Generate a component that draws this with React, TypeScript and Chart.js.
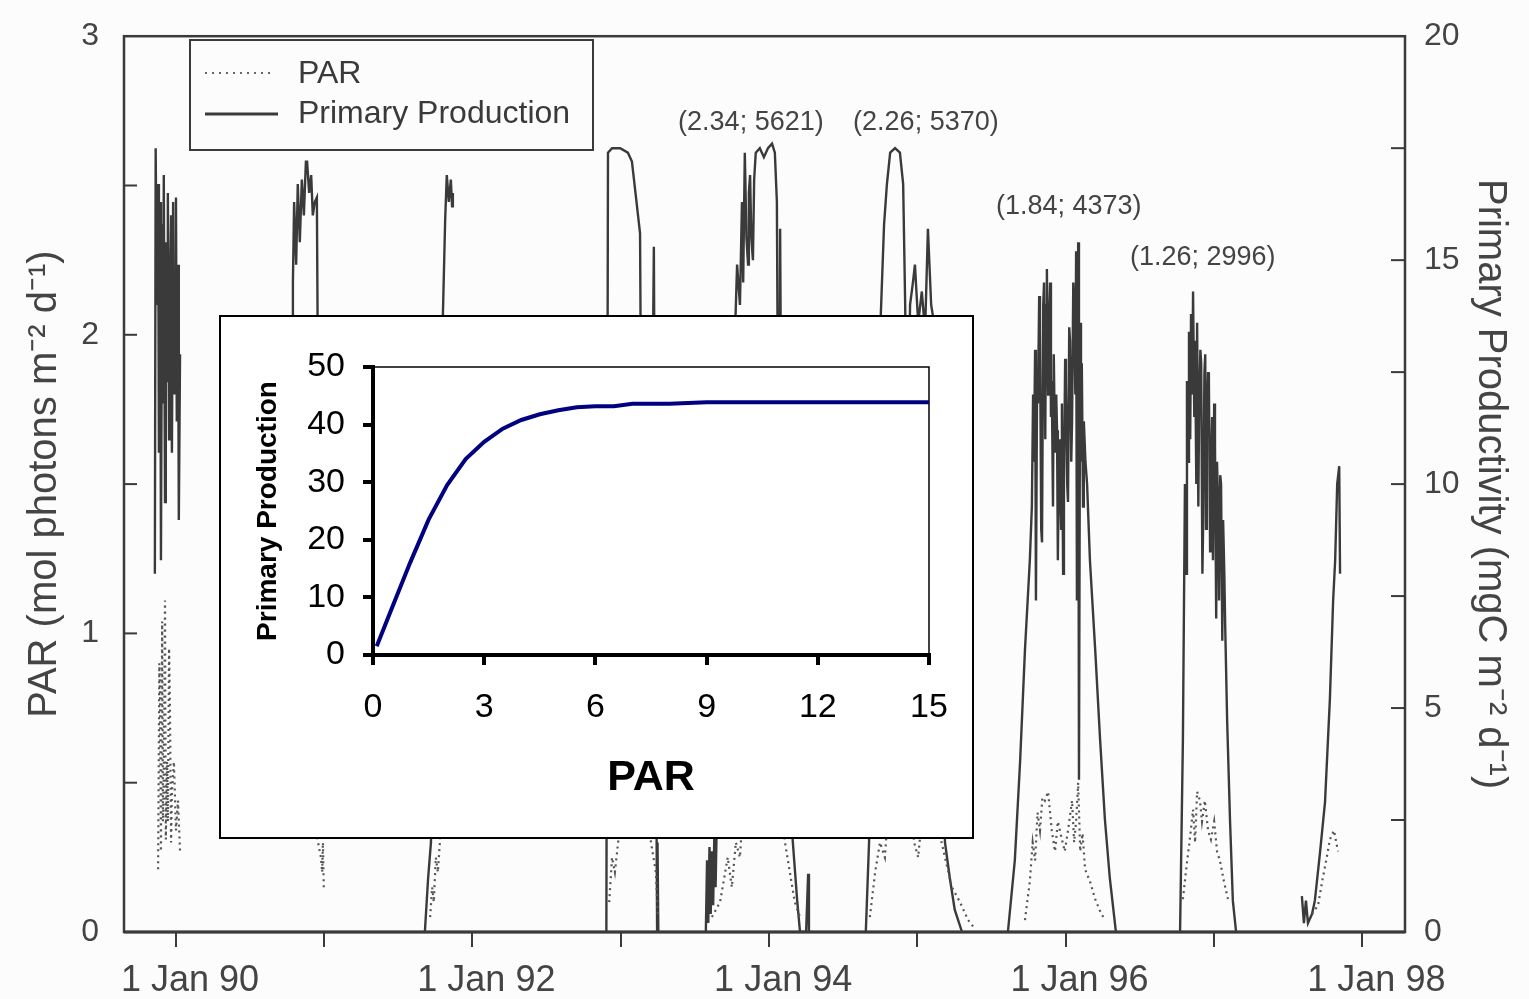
import React, { useEffect, useRef } from 'react';
import { Chart, registerables } from 'chart.js';

Chart.register(...registerables);

const FONT = '"Liberation Sans", Arial, Helvetica, sans-serif';
const INK = '#3a3a3a';

// ---------- Main series (x = days since 1 Jan 1990) ----------
// Primary productivity (right axis, mgC m-2 d-1); null = gap between seasons
const ppDay = [
  -52, -50, -47, -44, -42, -39, -37, -34, -32, -30, -27, -25, -22, -20, -17, -15, -12, -10, -7, -4, -2, 0, 2, 5, 7, 10,
  150,
  286, 288, 291, 296, 300, 305, 310, 315, 320, 323, 328, 333, 337, 342, 347, 350, 355, 360,
  500,
  613, 621, 628, 640, 653, 658, 663, 667, 672, 677, 680, 682,
  850,
  1060, 1064, 1074, 1094, 1113, 1123, 1133, 1143, 1148, 1155, 1167, 1177, 1182, 1185, 1186, 1188,
  1250,
  1305, 1308, 1311, 1314, 1317, 1320, 1323, 1326, 1329, 1332, 1340, 1364, 1377, 1382, 1389, 1394, 1397, 1401, 1405, 1409,
  1411, 1414, 1417, 1421, 1424, 1428, 1438, 1448, 1458, 1468, 1475, 1480, 1485, 1488, 1493, 1512, 1530, 1537, 1552, 1557,
  1559,
  1620,
  1699, 1707, 1714, 1727, 1736, 1744, 1751, 1759, 1771, 1783, 1791, 1796, 1801, 1808, 1815, 1820, 1828, 1837, 1845, 1852,
  1860, 1867, 1874, 1882, 1894, 1906, 1918, 1936,
  2000,
  2049, 2066, 2079, 2091, 2103, 2108, 2111, 2113, 2116, 2118, 2121, 2123, 2126, 2128, 2131, 2133, 2136, 2138, 2141, 2143,
  2145, 2148, 2150, 2153, 2155, 2157, 2160, 2162, 2165, 2168, 2170, 2172, 2175, 2177, 2180, 2182, 2185, 2187, 2190, 2192,
  2195, 2197, 2200, 2202, 2205, 2207, 2210, 2212, 2215, 2217, 2219, 2222, 2224, 2227, 2229, 2231, 2234, 2236, 2240, 2244,
  2251, 2264, 2276, 2288, 2300, 2315,
  2400,
  2473, 2480, 2485, 2488, 2490, 2493, 2495, 2498, 2500, 2503, 2505, 2508, 2510, 2513, 2515, 2518, 2520, 2523, 2525, 2528,
  2530, 2533, 2535, 2537, 2539, 2542, 2544, 2547, 2549, 2552, 2554, 2557, 2559, 2562, 2564, 2567, 2569, 2572, 2574, 2577,
  2579, 2582, 2584, 2589, 2596, 2603, 2611,
  2700,
  2773, 2778, 2783, 2788, 2798, 2805, 2818, 2830, 2842, 2850, 2855, 2860, 2865, 2867,
];
const ppVal = [
  8.0, 17.5, 14.0, 16.7, 10.7, 16.3, 8.3, 15.8, 11.8, 16.9, 9.6, 15.4, 12.3, 16.5, 11.0, 14.0, 16.0, 10.7, 16.3, 12.0, 13.6, 16.4, 11.4, 14.9, 9.2, 12.9,
  null,
  7.4, 14.5, 16.3, 14.9, 16.7, 15.4, 16.8, 16.0, 17.2, 17.2, 16.5, 16.9, 16.0, 16.3, 16.4, 11.8, 7.4, 2.9,
  null,
  0, 1.2, 2.0, 7.4, 12.3, 14.0, 15.9, 16.9, 16.3, 16.8, 16.2, 16.5,
  null,
  0, 17.4, 17.5, 17.5, 17.4, 17.2, 16.4, 15.6, 7.4, 9.6, 5.2, 15.3, 5.2, 0, 2.0, 0,
  null,
  0, 1.6, 0.2, 1.9, 0.4, 1.8, 0.6, 2.2, 1.0, 2.5, 5.2, 10.7, 13.4, 14.9, 14.0, 16.3, 14.5, 17.4, 15.5, 14.9,
  16.5, 16.9, 15.5, 15.0, 16.8, 17.4, 17.5, 17.3, 17.5, 17.6, 17.4, 16.3, 7.4, 15.7, 7.4, 2.9, 0.7, 0, 0, 1.3,
  0,
  null,
  0, 2.0, 5.2, 9.6, 13.8, 15.8, 16.7, 17.4, 17.5, 17.4, 16.7, 14.0, 9.6, 14.0, 14.5, 14.9, 13.6, 14.3, 13.4, 15.7,
  14.0, 13.6, 9.6, 5.2, 2.0, 1.2, 0.5, 0,
  null,
  0, 1.6, 3.8, 6.3, 8.3, 9.5, 12.0, 10.5, 13.0, 7.4, 12.5, 11.8, 14.2, 13.4, 9.0, 8.7, 14.0, 14.5, 11.0, 14.0,
  14.8, 12.0, 13.4, 14.5, 11.5, 12.3, 9.5, 12.9, 10.7, 12.0, 11.2, 8.3, 11.0, 10.3, 9.0, 11.8, 8.0, 10.0, 12.8, 12.3,
  10.0, 9.6, 13.5, 13.2, 10.5, 11.4, 14.5, 14.0, 12.0, 15.2, 7.4, 15.4, 3.4, 13.6, 10.5, 12.7, 9.5, 11.4, 10.5, 10.0,
  8.3, 6.3, 4.3, 2.5, 1.2, 0,
  null,
  0, 4.3, 10.0, 8.0, 12.3, 10.5, 13.4, 11.0, 13.8, 12.0, 14.3, 11.5, 13.2, 10.0, 13.6, 9.5, 11.8, 13.0, 12.7, 8.0,
  9.2, 12.5, 12.9, 9.0, 11.4, 12.5, 12.3, 8.5, 10.3, 11.5, 8.3, 11.8, 10.9, 7.0, 10.5, 9.5, 7.4, 10.2, 10.0, 6.5,
  9.2, 8.0, 6.9, 4.7, 2.5, 0.7, 0,
  null,
  0.8, 0.2, 0.7, 0.2, 0.4, 0.7, 1.8, 2.9, 5.2, 7.4, 8.3, 10.0, 10.4, 8.0,
];

// PAR (left axis, mol photons m-2 d-1)
const parDay = [
  -44, -41, -39, -37, -34, -32, -30, -27, -25, -22, -20, -17, -15, -12, -10, -5, 0, 5, 10,
  150,
  300, 310, 320, 330, 340, 350, 357, 360, 362, 364,
  500,
  626, 631, 635, 640, 645, 650, 655, 665, 675,
  850,
  1067, 1074, 1081, 1089, 1106, 1131, 1155, 1170, 1182, 1187,
  1250,
  1320, 1340, 1359, 1369, 1379, 1389, 1401, 1438, 1475, 1500, 1512, 1524, 1537,
  1620,
  1709, 1722, 1734, 1746, 1759, 1783, 1808, 1818, 1828, 1845, 1869, 1894, 1911, 1931, 1951, 1968,
  2000,
  2091, 2103, 2110, 2116, 2122, 2128, 2134, 2140, 2148, 2157, 2165, 2172, 2182, 2189, 2197, 2207, 2212, 2217, 2222, 2227,
  2233, 2239, 2251, 2264, 2276, 2288,
  2400,
  2480, 2488, 2497, 2505, 2510, 2515, 2522, 2527, 2534, 2542, 2549, 2557, 2564, 2571, 2581, 2591,
  2700,
  2798, 2813, 2823, 2833, 2842, 2852, 2862,
];
const parVal = [
  0.21, 0.9, 0.77, 0.27, 1.04, 0.37, 0.51, 1.11, 0.31, 0.57, 0.37, 0.95, 0.77, 0.3, 0.47, 0.57, 0.34, 0.44, 0.27,
  null,
  0.6, 0.8, 0.5, 0.7, 0.4, 0.3, 0.25, 0.2, 0.3, 0.15,
  null,
  0.05, 0.15, 0.1, 0.25, 0.2, 0.3, 0.5, 0.7, 0.6,
  null,
  0.1, 0.25, 0.2, 0.3, 0.6, 0.7, 0.5, 0.3, 0.2, 0.05,
  null,
  0.05, 0.1, 0.25, 0.15, 0.3, 0.25, 0.5, 0.7, 0.6, 0.3, 0.2, 0.1, 0.05,
  null,
  0.05, 0.2, 0.3, 0.25, 0.5, 0.7, 0.5, 0.3, 0.25, 0.5, 0.4, 0.25, 0.15, 0.1, 0.04, 0.01,
  null,
  0.04, 0.17, 0.3, 0.24, 0.4, 0.34, 0.45, 0.44, 0.47, 0.34, 0.27, 0.37, 0.31, 0.27, 0.34, 0.44, 0.3, 0.37, 0.5, 0.27,
  0.33, 0.21, 0.17, 0.11, 0.07, 0.04,
  null,
  0.11, 0.21, 0.31, 0.41, 0.3, 0.47, 0.44, 0.37, 0.44, 0.34, 0.31, 0.37, 0.27, 0.24, 0.17, 0.11,
  null,
  0.06, 0.09, 0.17, 0.24, 0.31, 0.34, 0.27,
];

const yearTicks = [1990, 1991, 1992, 1993, 1994, 1995, 1996, 1997, 1998];
const parTicks = [0, 1, 2, 3];
const prodTicks = [0, 5, 10, 15, 20];
const parMinorTicks = [0.5, 1, 1.5, 2, 2.5];
const prodMinorTicks = [2.5, 5, 7.5, 10, 12.5, 15, 17.5];

const annotations = [
  { text: '(2.34; 5621)', day: 1416, par: 2.71 },
  { text: '(2.26; 5370)', day: 1847, par: 2.71 },
  { text: '(1.84; 4373)', day: 2199, par: 2.43 },
  { text: '(1.26; 2996)', day: 2529, par: 2.26 },
];

// ---------- Inset series ----------
const insetPar = [0.1, 0.5, 1, 1.5, 2, 2.5, 3, 3.5, 4, 4.5, 5, 5.5, 6, 6.5, 7, 8, 9, 10, 11, 12, 13, 14, 15];
const insetProd = [1.5, 8, 16, 23.5, 29.5, 34, 37, 39.3, 40.8, 41.8, 42.5, 43, 43.2, 43.2, 43.6, 43.6, 43.9, 43.9, 43.9, 43.9, 43.9, 43.9, 43.9];
const insetXTicks = [0, 3, 6, 9, 12, 15];
const insetYTicks = [0, 10, 20, 30, 40, 50];

const dayOf = (y: number) => (Date.UTC(y, 0, 1) - Date.UTC(1990, 0, 1)) / 86400000;

const decorPlugin = {
  id: 'decor',
  afterDraw(chart: any) {
    const { ctx, chartArea, scales } = chart;
    const { left, right, top, bottom } = chartArea;
    ctx.save();
    ctx.strokeStyle = INK;
    ctx.lineWidth = 2.5;
    ctx.setLineDash([]);
    ctx.strokeRect(left, top, right - left, bottom - top);
    ctx.lineWidth = 3;
    ctx.beginPath();
    ctx.moveTo(left, bottom);
    ctx.lineTo(right, bottom);
    ctx.stroke();
    ctx.lineWidth = 2;
    const seg = (x1: number, y1: number, x2: number, y2: number) => {
      ctx.beginPath();
      ctx.moveTo(x1, y1);
      ctx.lineTo(x2, y2);
      ctx.stroke();
    };
    parMinorTicks.forEach((v) => {
      const y = scales.y.getPixelForValue(v);
      seg(left, y, left + 13, y);
    });
    prodMinorTicks.forEach((v) => {
      const y = scales.y1.getPixelForValue(v);
      seg(right - 14, y, right, y);
    });

    // legend
    ctx.fillStyle = '#fcfcfc';
    ctx.fillRect(190, 40, 403, 110);
    ctx.lineWidth = 2;
    ctx.strokeRect(190, 40, 403, 110);
    ctx.strokeStyle = '#666';
    ctx.lineWidth = 2;
    ctx.setLineDash([2, 5]);
    seg(205, 73, 272, 73);
    ctx.setLineDash([]);
    ctx.strokeStyle = INK;
    ctx.lineWidth = 3;
    seg(205, 114, 278, 114);
    ctx.fillStyle = INK;
    ctx.font = `32px ${FONT}`;
    ctx.textBaseline = 'middle';
    ctx.textAlign = 'left';
    ctx.fillText('PAR', 298, 74);
    ctx.fillText('Primary Production', 298, 114);

    // annotations
    ctx.font = `27px ${FONT}`;
    ctx.textAlign = 'center';
    ctx.fillStyle = '#444';
    annotations.forEach((a) => {
      ctx.fillText(a.text, scales.x.getPixelForValue(a.day), scales.y.getPixelForValue(a.par));
    });
    ctx.restore();
  },
};

const insetFramePlugin = {
  id: 'insetFrame',
  beforeDatasetsDraw(chart: any) {
    const { ctx, chartArea } = chart;
    const { left, right, top, bottom } = chartArea;
    ctx.save();
    ctx.strokeStyle = '#000';
    ctx.lineWidth = 1.5;
    ctx.strokeRect(left, top, right - left, bottom - top);
    ctx.restore();
  },
};

function MainChart() {
  const ref = useRef<HTMLCanvasElement | null>(null);
  useEffect(() => {
    if (!ref.current) return;
    const ppData = ppDay.map((d, i) => ({ x: d, y: ppVal[i] }));
    const parData = parDay.map((d, i) => ({ x: d, y: parVal[i] }));
    const chart = new Chart(ref.current, {
      type: 'line',
      data: {
        datasets: [
          {
            label: 'PAR',
            data: parData as any,
            yAxisID: 'y',
            borderColor: '#555',
            borderWidth: 2.2,
            borderDash: [2, 4],
            pointRadius: 0,
            spanGaps: false,
            tension: 0,
          },
          {
            label: 'Primary Production',
            data: ppData as any,
            yAxisID: 'y1',
            borderColor: INK,
            borderWidth: 2.4,
            pointRadius: 0,
            spanGaps: false,
            tension: 0,
          },
        ],
      },
      options: {
        animation: false,
        responsive: false,
        events: [],
        layout: { padding: { top: 32, left: 0, right: 0, bottom: 0 } },
        plugins: { legend: { display: false }, tooltip: { enabled: false } },
        scales: {
          x: {
            type: 'linear',
            position: 'bottom',
            min: -128,
            max: 3027,
            afterBuildTicks: (s: any) => {
              s.ticks = yearTicks.map((y) => ({ value: dayOf(y) }));
            },
            afterFit: (s: any) => {
              s.height = 67;
            },
            grid: { drawOnChartArea: false, drawTicks: true, tickLength: 15, lineWidth: 2, color: INK },
            border: { display: false },
            ticks: {
              autoSkip: false,
              maxRotation: 0,
              padding: 12,
              labelOffset: 14,
              color: '#444',
              font: { size: 36, family: FONT },
              callback: (_v: any, i: number) => {
                const yr = yearTicks[i];
                return yr % 2 === 0 ? `1 Jan ${String(yr).slice(2)}` : '';
              },
            },
          },
          y: {
            type: 'linear',
            position: 'left',
            min: 0,
            max: 3,
            afterBuildTicks: (s: any) => {
              s.ticks = parTicks.map((v) => ({ value: v }));
            },
            afterFit: (s: any) => {
              s.width = 124;
            },
            grid: { display: false },
            border: { display: false },
            ticks: { padding: 17, color: '#444', font: { size: 32, family: FONT } },
            title: {
              display: true,
              text: 'PAR (mol photons m⁻² d⁻¹)',
              color: '#444',
              font: { size: 40, family: FONT },
              padding: { top: 21, bottom: 0 },
            },
          },
          y1: {
            type: 'linear',
            position: 'right',
            min: 0,
            max: 20,
            afterBuildTicks: (s: any) => {
              s.ticks = prodTicks.map((v) => ({ value: v }));
            },
            afterFit: (s: any) => {
              s.width = 124;
            },
            grid: { display: false },
            border: { display: false },
            ticks: { padding: 11, color: '#444', font: { size: 32, family: FONT } },
            title: {
              display: true,
              text: 'Primary Productivity (mgC m⁻² d⁻¹)',
              color: '#444',
              font: { size: 40, family: FONT },
              padding: { top: 15, bottom: 0 },
            },
          },
        },
      },
      plugins: [decorPlugin],
    });
    return () => chart.destroy();
  }, []);
  return <canvas ref={ref} width={1529} height={999} style={{ position: 'absolute', left: 0, top: 0 }} />;
}

function InsetChart() {
  const ref = useRef<HTMLCanvasElement | null>(null);
  useEffect(() => {
    if (!ref.current) return;
    const chart = new Chart(ref.current, {
      type: 'line',
      data: {
        datasets: [
          {
            label: 'Primary Production',
            data: insetPar.map((p, i) => ({ x: p, y: insetProd[i] })) as any,
            borderColor: '#000080',
            borderWidth: 4,
            pointRadius: 0,
            tension: 0,
          },
        ],
      },
      options: {
        animation: false,
        responsive: false,
        events: [],
        layout: { padding: { top: 50, right: 43, left: 0, bottom: 0 } },
        plugins: { legend: { display: false }, tooltip: { enabled: false } },
        scales: {
          x: {
            type: 'linear',
            min: 0,
            max: 15,
            afterBuildTicks: (s: any) => {
              s.ticks = insetXTicks.map((v) => ({ value: v }));
            },
            afterFit: (s: any) => {
              s.height = 182;
            },
            grid: { drawOnChartArea: false, tickLength: 10, lineWidth: 4, color: '#000' },
            border: { width: 4, color: '#000' },
            ticks: { maxRotation: 0, autoSkip: false, padding: 22, color: '#000', font: { size: 34, family: FONT } },
            title: {
              display: true,
              text: 'PAR',
              color: '#000',
              font: { size: 43, weight: 'bold', family: FONT },
              padding: { top: 0, bottom: 33 },
            },
          },
          y: {
            type: 'linear',
            min: 0,
            max: 50,
            afterBuildTicks: (s: any) => {
              s.ticks = insetYTicks.map((v) => ({ value: v }));
            },
            afterFit: (s: any) => {
              s.width = 152;
            },
            grid: { drawOnChartArea: false, tickLength: 10, lineWidth: 4, color: '#000' },
            border: { width: 4, color: '#000' },
            ticks: { padding: 18, color: '#000', font: { size: 34, family: FONT } },
            title: {
              display: true,
              text: 'Primary Production',
              color: '#000',
              font: { size: 28, weight: 'bold', family: FONT },
              padding: { top: 30, bottom: 0 },
            },
          },
        },
      },
      plugins: [insetFramePlugin],
    });
    return () => chart.destroy();
  }, []);
  return <canvas ref={ref} width={751} height={520} style={{ position: 'absolute', left: 0, top: 0 }} />;
}

export default function App() {
  return (
    <div
      style={{
        position: 'fixed',
        left: 0,
        top: 0,
        width: 1529,
        height: 999,
        background: '#fcfcfc',
        overflow: 'hidden',
      }}
    >
      <MainChart />
      <div
        style={{
          position: 'absolute',
          left: 219,
          top: 315,
          width: 755,
          height: 524,
          boxSizing: 'border-box',
          border: '2px solid #000',
          background: '#fff',
        }}
      >
        <InsetChart />
      </div>
    </div>
  );
}
